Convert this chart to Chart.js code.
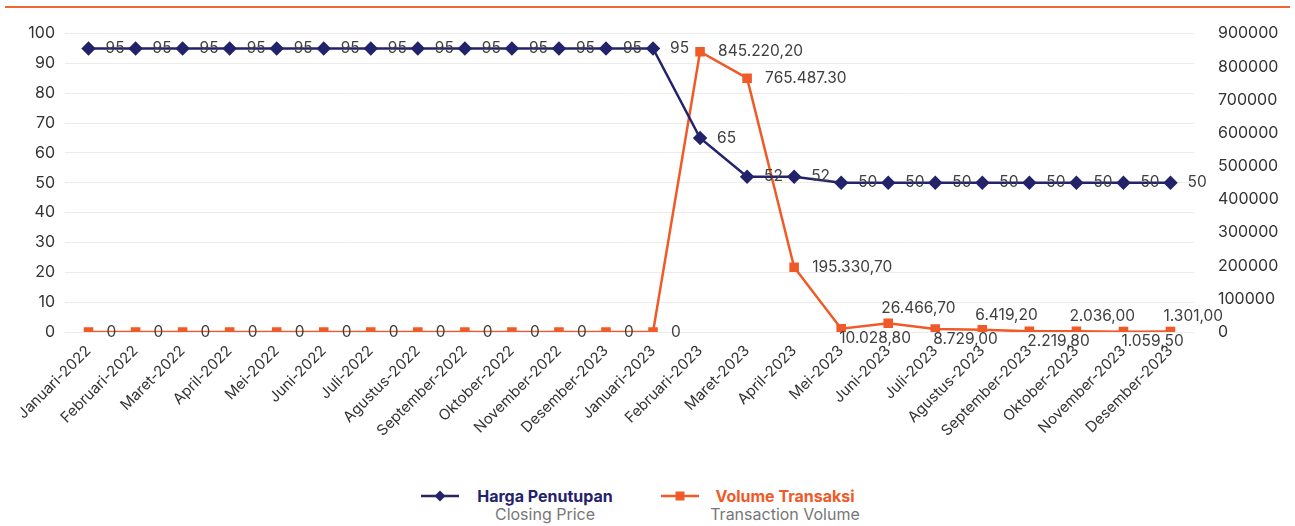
<!DOCTYPE html>
<html>
<head>
<meta charset="utf-8">
<script src="https://cdn.jsdelivr.net/npm/chart.js@4.4.0/dist/chart.umd.min.js"></script>
<style>
  body { margin: 0; background: #fff; font-family: Inter, sans-serif; }
  #wrap { position: relative; width: 1295px; height: 526px; }
  #topline { position: absolute; left: 5px; top: 6px; width: 1285px; height: 2px; background: #f26535; }
  #box { position: absolute; left: 0; top: 0; width: 1295px; height: 436px; }
  .mk { position: absolute; top: 489px; }
  .t { position: absolute; top: 487px; text-align: center; font-size: 16px; line-height: 18px; }
  .t b { display: block; }
  .t span { color: #777; }
</style>
</head>
<body>
<div id="wrap">
  <div id="topline"></div>
  <div id="box"><canvas id="grafico"></canvas></div>
  <svg class="mk" style="left:421px" width="40" height="14"><line x1="0" y1="7" x2="38" y2="7" stroke="#23236b" stroke-width="2.5"/><polygon points="19,1.5 24.5,7 19,12.5 13.5,7" fill="#23236b"/></svg>
  <div class="t" style="left:465px;width:160px"><b style="color:#23236b">Harga Penutupan</b><span>Closing Price</span></div>
  <svg class="mk" style="left:661px" width="40" height="14"><line x1="0" y1="7" x2="38" y2="7" stroke="#f05a28" stroke-width="2.5"/><rect x="14.5" y="2.5" width="9" height="9" fill="#f05a28"/></svg>
  <div class="t" style="left:705px;width:160px"><b style="color:#f05a28">Volume Transaksi</b><span>Transaction Volume</span></div>
</div>
<script>
// dados
const bulan = ['Januari-2022', 'Februari-2022', 'Maret-2022', 'April-2022', 'Mei-2022', 'Juni-2022',
    'Juli-2022', 'Agustus-2022', 'September-2022', 'Oktober-2022', 'November-2022', 'Desember-2023',
    'Januari-2023', 'Februari-2023', 'Maret-2023', 'April-2023', 'Mei-2023', 'Juni-2023',
    'Juli-2023', 'Agustus-2023', 'September-2023', 'Oktober-2023', 'November-2023', 'Desember-2023'];

const hargaPenutupan = [95, 95, 95, 95, 95, 95, 95, 95, 95, 95, 95, 95, 95, 65, 52, 52, 50, 50, 50, 50, 50, 50, 50, 50];

const volumeTransaksi = [0, 0, 0, 0, 0, 0, 0, 0, 0, 0, 0, 0, 0,
    845220.2, 765487.3, 195330.7, 10028.8, 26466.7, 8729.0, 6419.2, 2219.8, 2036.0, 1059.5, 1301.0];

const labelVolume = ['0', '0', '0', '0', '0', '0', '0', '0', '0', '0', '0', '0', '0',
    '845.220,20', '765.487.30', '195.330,70', '10.028,80', '26.466,70', '8.729,00', '6.419,20',
    '2.219,80', '2.036,00', '1.059,50', '1.301,00'];

const ticksKiri = [0, 10, 20, 30, 40, 50, 60, 70, 80, 90, 100];
const ticksKanan = [0, 100000, 200000, 300000, 400000, 500000, 600000, 700000, 800000, 900000];

const corHarga = '#23236b';
const corVolume = '#f05a28';

// escreve os valores ao lado de cada ponto
const pluginRotulos = {
    id: 'rotulos',
    afterDatasetsDraw(chart) {
        const ctx = chart.ctx;
        ctx.save();
        ctx.font = '15.5px Inter';
        ctx.fillStyle = '#404040';
        ctx.textBaseline = 'middle';
        ctx.textAlign = 'left';

        chart.getDatasetMeta(0).data.forEach((p, i) => {
            ctx.fillText(String(hargaPenutupan[i]), p.x + 17, p.y);
        });

        chart.getDatasetMeta(1).data.forEach((p, i) => {
            if (i < 16) {
                ctx.fillText(labelVolume[i], p.x + 18, p.y);
            } else if (i % 2 == 0) {
                ctx.fillText(labelVolume[i], p.x - 2, p.y + 10);
            } else {
                ctx.fillText(labelVolume[i], p.x - 7, p.y - 15);
            }
        });
        ctx.restore();
    }
};

const config = {
    type: 'line',
    data: {
        labels: bulan,
        datasets: [{
            label: 'Harga Penutupan',
            data: hargaPenutupan,
            yAxisID: 'y',
            borderColor: corHarga,
            backgroundColor: corHarga,
            borderWidth: 2.5,
            pointStyle: 'rectRot',
            pointRadius: 5.5,
            pointHoverRadius: 5.5,
            tension: 0
        }, {
            label: 'Volume Transaksi',
            data: volumeTransaksi,
            yAxisID: 'y1',
            borderColor: corVolume,
            backgroundColor: corVolume,
            borderWidth: 2.5,
            pointStyle: 'rect',
            pointRadius: 5,
            pointHoverRadius: 5,
            tension: 0
        }]
    },
    options: {
        responsive: true,
        maintainAspectRatio: false,
        animation: false,
        layout: { padding: { top: 18, left: 0, right: 0, bottom: 0 } },
        plugins: {
            legend: { display: false },
            tooltip: { enabled: false }
        },
        scales: {
            x: {
                offset: true,
                grid: { display: false },
                border: { display: false },
                afterFit: (axis) => { axis.height = 104; },
                ticks: {
                    color: '#333',
                    font: { family: 'Inter', size: 15 },
                    minRotation: 45,
                    maxRotation: 45,
                    autoSkip: false,
                    padding: 2
                }
            },
            y: {
                position: 'left',
                min: 0,
                max: 100,
                afterBuildTicks: (axis) => { axis.ticks = ticksKiri.map(v => ({ value: v })); },
                afterFit: (axis) => { axis.width = 65; },
                grid: { color: '#ebebeb', lineWidth: 1, drawTicks: false },
                border: { display: false },
                ticks: { color: '#333', font: { family: 'Inter', size: 16 }, padding: 10 }
            },
            y1: {
                position: 'right',
                min: 0,
                max: 900000,
                afterBuildTicks: (axis) => { axis.ticks = ticksKanan.map(v => ({ value: v })); },
                afterFit: (axis) => { axis.width = 101; },
                grid: { display: false, drawTicks: false },
                border: { display: false },
                ticks: { color: '#333', font: { family: 'Inter', size: 16 }, padding: 24, callback: v => String(v) }
            }
        }
    },
    plugins: [pluginRotulos]
};

let grafico = new Chart(document.getElementById('grafico'), config);
</script>
</body>
</html>
